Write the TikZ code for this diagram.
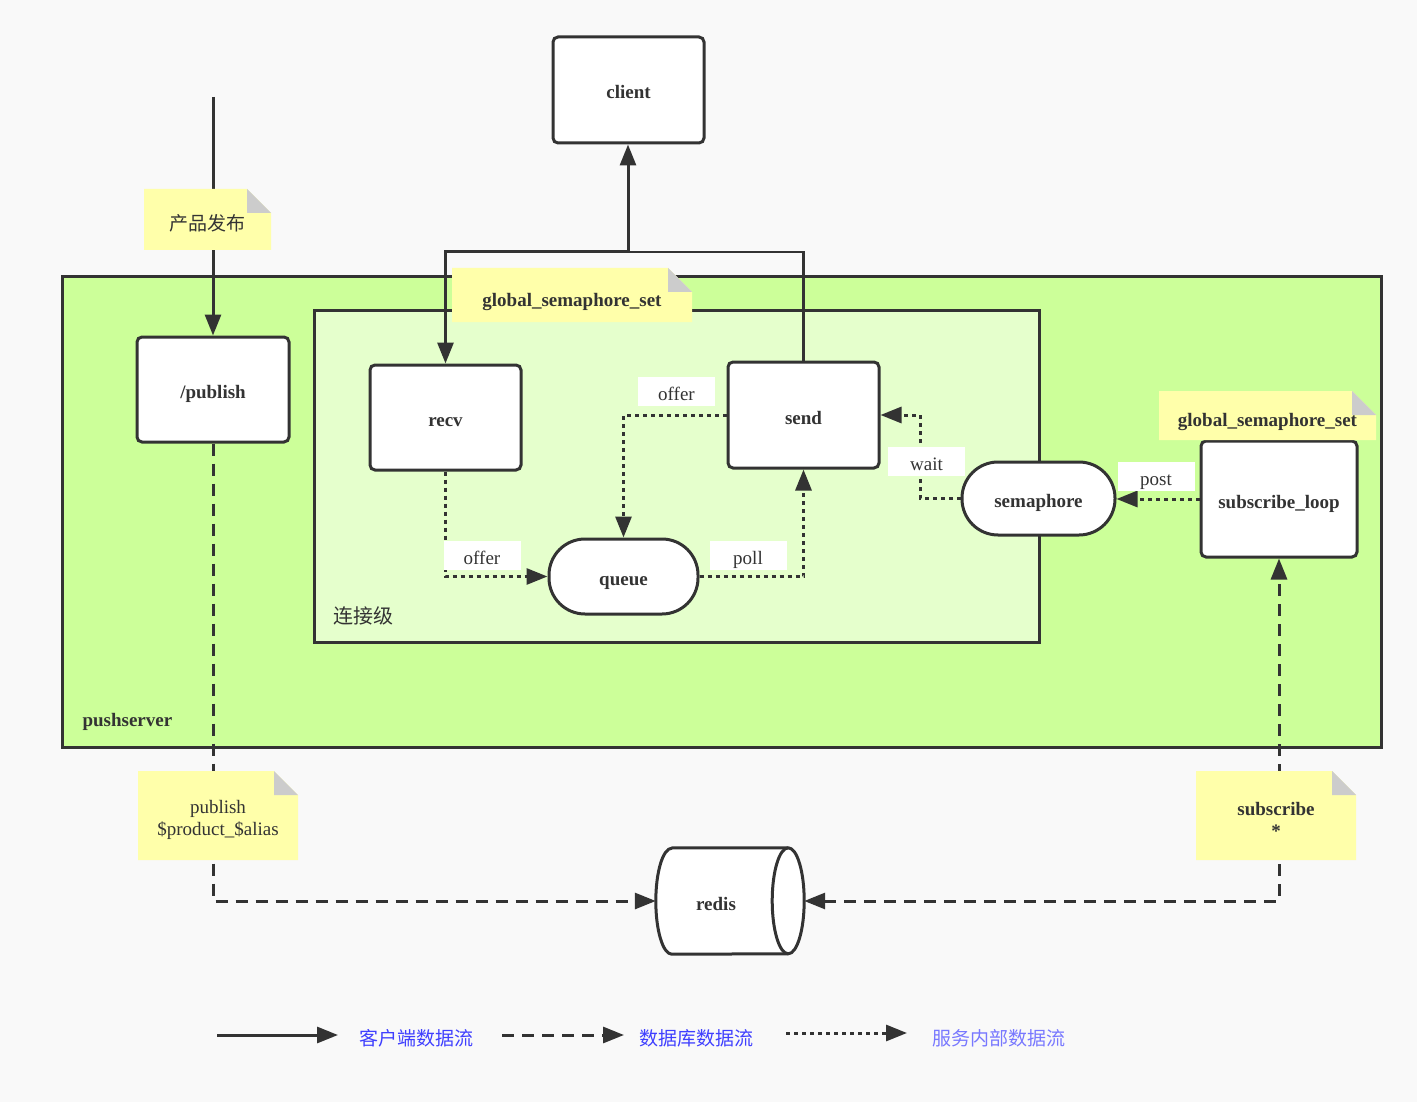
\documentclass[tikz,border=0pt]{standalone}
\usepackage{fontspec}
\setmainfont{Liberation Serif}
\newfontfamily\cjk{Noto Sans CJK SC}
\usetikzlibrary{arrows.meta,calc}
\definecolor{bg}{HTML}{F9F9F9}
\definecolor{ink}{HTML}{333333}
\definecolor{outerg}{HTML}{CCFF99}
\definecolor{innerg}{HTML}{E5FFCC}
\definecolor{notey}{HTML}{FFFFAA}
\definecolor{foldc}{HTML}{CCCCCC}
\definecolor{legA}{HTML}{3F3FFF}
\definecolor{legC}{HTML}{7878FF}
\newcommand\dfont{\fontsize{19pt}{22pt}\selectfont}
\tikzset{
  >={Triangle[length=21pt,width=16pt]},
  container/.style={draw=ink, line width=3pt, inner sep=0pt},
  box/.style={draw=ink, line width=3pt, fill=white, rounded corners=5pt, inner sep=0pt, font=\dfont\bfseries, text=ink, text height=18pt, text depth=0pt},
  stadium/.style={box, rounded corners=36pt},
  note/.style={inner sep=0pt, align=center, text=ink, font=\dfont,
    path picture={
      \fill[notey] (path picture bounding box.south west) -- (path picture bounding box.north west)
        -- ([xshift=-24pt]path picture bounding box.north east) -- ([yshift=-24pt]path picture bounding box.north east)
        -- (path picture bounding box.south east) -- cycle;
      \fill[foldc] ([xshift=-24pt]path picture bounding box.north east) -- ([xshift=-24pt,yshift=-24pt]path picture bounding box.north east)
        -- ([yshift=-24pt]path picture bounding box.north east) -- cycle;
    }},
  onenote/.style={note, text height=22pt, text depth=0pt},
  lbl/.style={fill=white, inner sep=0pt, minimum width=77pt, minimum height=29pt, font=\dfont, text=ink, text height=18pt, text depth=0pt},
  cflow/.style={draw=ink, line width=3pt, ->},
  dflow/.style={draw=ink, line width=3pt, dash pattern=on 12pt off 8pt, ->},
  iflow/.style={draw=ink, line width=3pt, dash pattern=on 4pt off 4pt, ->},
}
\begin{document}
\begin{tikzpicture}[x=1pt,y=-1pt]
\fill[bg] (0,0) rectangle (1417,1102);
\useasboundingbox (0,0) rectangle (1417,1102);

% containers
\node[container, fill=outerg, minimum width=1319pt, minimum height=470pt] (pushserver) at (721.5,512) {};
\node[container, fill=innerg, minimum width=725pt, minimum height=332pt] (conn) at (676.5,476) {};
\node[anchor=west, font=\dfont\bfseries, text=ink] (pslabel) at (79,722) {pushserver};
\node[anchor=west, font=\fontsize{20pt}{24pt}\selectfont\cjk, text=ink] (connlabel) at (330,616) {连接级};

% boxes
\node[box, minimum width=151pt, minimum height=106pt] (client) at (628.5,90) {client};
\node[box, minimum width=152pt, minimum height=105pt] (publish) at (213,389.5) {/publish};
\node[box, minimum width=151pt, minimum height=105pt] (recv) at (445.5,417.5) {recv};
\node[box, minimum width=151pt, minimum height=106pt] (send) at (803.5,415) {send};
\node[stadium, minimum width=149pt, minimum height=75pt] (queue) at (623.5,576.5) {queue};
\node[stadium, minimum width=153pt, minimum height=73pt] (semaphore) at (1038.5,498.5) {semaphore};
\node[box, minimum width=156pt, minimum height=116pt] (subloop) at (1279,499) {subscribe\_loop};

% redis cylinder
\node[inner sep=0pt, minimum width=148pt, minimum height=106pt] (redis) at (730,901) {};
\draw[ink, line width=3pt, fill=white, line join=round]
  ([xshift=16pt]redis.north west) -- ([xshift=-16pt]redis.north east)
  arc[start angle=90, end angle=-90, x radius=16pt, y radius=53pt]
  -- ([xshift=16pt]redis.south west)
  arc[start angle=270, end angle=90, x radius=16pt, y radius=53pt] -- cycle;
\draw[ink, line width=3pt] ([xshift=-16pt]redis.north east)
  arc[start angle=90, end angle=270, x radius=16pt, y radius=53pt];
\node[font=\dfont\bfseries, text=ink] (redistext) at (716,904) {redis};

% client data flow
\coordinate (pubstart) at (213,97);
\coordinate (j) at (628,252);
\draw[cflow] (pubstart) -- (publish.north);
\draw[draw=ink, line width=2.2pt] (send.north) |- (j);
\draw[cflow] (j) -| (recv.north);
\draw[cflow] (j) -- (j |- client.south);

% database flow
\draw[dflow] (publish.south) |- (redis.west);
\draw[dflow, <->] (redis.east) -| (subloop.south);

% internal flow
\coordinate (wk) at (920,498.5);
\draw[iflow] (recv.south) |- (queue.west);
\draw[iflow] (send.west) -| (queue.north);
\draw[iflow] (queue.east) -| (send.south);
\draw[iflow] (semaphore.west) -- (wk) |- (send.east);
\draw[iflow] (subloop.west) -- (subloop.west -| semaphore.east);

% edge labels
\node[lbl] (l_offer1) at (482,555) {offer};
\node[lbl] (l_offer2) at (676.5,391) {offer};
\node[lbl] (l_poll) at (748,555) {poll};
\node[lbl] (l_wait) at (926.5,461.5) {wait};
\node[lbl] (l_post) at (1156,476) {post};

% notes
\node[onenote, minimum width=127pt, minimum height=61pt] (n_pub) at (207.5,219.5) {\cjk 产品发布};
\node[onenote, minimum width=240pt, minimum height=54pt, font=\dfont\bfseries] (n_gs1) at (572,295) {global\_semaphore\_set};
\node[onenote, minimum width=217pt, minimum height=49pt, font=\dfont\bfseries] (n_gs2) at (1267.5,415.5) {global\_semaphore\_set};
\node[note, minimum width=160pt, minimum height=89pt] (n_alias) at (218,815.5) {\rule{0pt}{22pt}publish\\\$product\_\$alias};
\node[note, minimum width=160pt, minimum height=89pt, font=\dfont\bfseries] (n_sub) at (1276,815.5) {\rule{0pt}{21pt}subscribe\\*};

% legend
\coordinate (la1) at (217,1035); \coordinate (lb1) at (338,1035);
\coordinate (la2) at (502,1035); \coordinate (lb2) at (624,1035);
\coordinate (la3) at (786,1033); \coordinate (lb3) at (907,1033);
\draw[cflow] (la1) -- (lb1);
\draw[dflow] (la2) -- (lb2);
\draw[iflow] (la3) -- (lb3);
\node[anchor=west, font=\dfont\cjk, text=legA, inner sep=0pt] (t1) at (359,1038) {客户端数据流};
\node[anchor=west, font=\dfont\cjk, text=legA, inner sep=0pt] (t2) at (639,1038) {数据库数据流};
\node[anchor=west, font=\dfont\cjk, text=legC, inner sep=0pt] (t3) at (932,1038) {服务内部数据流};
\end{tikzpicture}
\end{document}
